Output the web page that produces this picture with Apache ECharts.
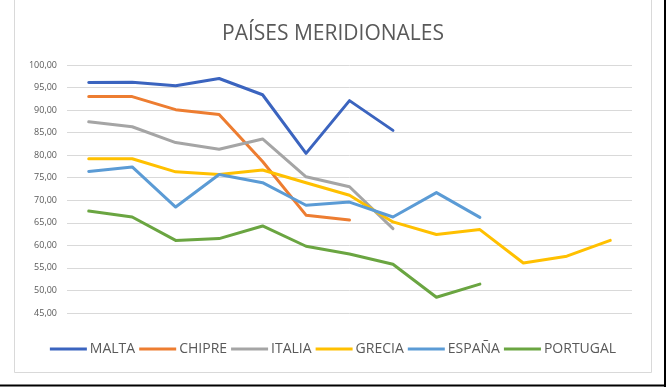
<!DOCTYPE html>
<html>
<head>
<meta charset="utf-8">
<script src="https://cdn.jsdelivr.net/npm/echarts@6/dist/echarts.min.js"></script>
<style>
html,body{margin:0;padding:0;background:#fff;}
#c{width:666px;height:387px;}
</style>
</head>
<body>
<div id="c"></div>
<script>
var categories = ['1','2','3','4','5','6','7','8','9','10','11','12','13'];
var yTicks = [45,50,55,60,65,70,75,80,85,90,95,100];
var malta    = [96.1, 96.2, 95.4, 97.0, 93.4, 80.4, 92.1, 85.5, null, null, null, null, null];
var chipre   = [93.0, 93.0, 90.1, 89.0, 78.6, 66.7, 65.6, null, null, null, null, null, null];
var italia   = [87.4, 86.3, 82.8, 81.3, 83.6, 75.2, 73.0, 63.7, null, null, null, null, null];
var grecia   = [79.2, 79.2, 76.3, 75.7, 76.7, 73.9, 71.1, 65.2, 62.4, 63.5, 56.1, 57.6, 61.1];
var espana   = [76.4, 77.4, 68.5, 75.7, 73.9, 68.9, 69.6, 66.3, 71.7, 66.2, null, null, null];
var portugal = [67.6, 66.3, 61.1, 61.5, 64.3, 59.8, 58.1, 55.8, 48.5, 51.4, null, null, null];
var names  = ['MALTA','CHIPRE','ITALIA','GRECIA','ESPAÑA','PORTUGAL'];
var values = [malta, chipre, italia, grecia, espana, portugal];
var colors = ['#3b64bf','#ed7d31','#a5a5a5','#ffc000','#5b9bd5','#6aa541'];

var chart = echarts.init(document.getElementById('c'), null, {renderer:'canvas'});
var series = names.map(function(n,i){
  return {
    name:n, type:'line', data:values[i], symbol:'none', showSymbol:false,
    connectNulls:false, animation:false,
    lineStyle:{width:3, color:colors[i], cap:'round', join:'round'},
    itemStyle:{color:colors[i]}
  };
});
chart.setOption({
  animation:false,
  backgroundColor:'#ffffff',
  title:{
    text:'PAÍSES MERIDIONALES', left:'center', top:19,
    textStyle:{fontFamily:'Open Sans', fontSize:21, fontWeight:'normal', color:'#595959'}
  },
  legend:{
    data:names, top:337, left:'center',
    icon:'rect', itemWidth:37, itemHeight:3, itemGap:4,
    textStyle:{fontFamily:'Open Sans', fontSize:14, color:'#595959', padding:[0,0,0,-2]}
  },
  grid:{left:67, right:34, top:65, bottom:74, containLabel:false},
  xAxis:{
    type:'category', data:categories, boundaryGap:true,
    axisLine:{show:false}, axisTick:{show:false}, axisLabel:{show:false}, splitLine:{show:false}
  },
  yAxis:{
    type:'value', min:yTicks[0], max:yTicks[yTicks.length-1], interval:5,
    axisLine:{show:false}, axisTick:{show:false},
    axisLabel:{margin:10, fontFamily:'Open Sans', fontSize:9, color:'#595959',
      formatter:function(v){return v.toFixed(2).replace('.',',');}},
    splitLine:{lineStyle:{color:'#d9d9d9', width:1}}
  },
  graphic:[
    {type:'rect', shape:{x:14.5, y:-5, width:637, height:377.5}, style:{fill:null, stroke:'#d9d9d9', lineWidth:1}, silent:true},
    {type:'line', shape:{x1:0, y1:385.5, x2:666, y2:385.5}, style:{stroke:'#000', lineWidth:2}, silent:true},
    {type:'line', shape:{x1:665, y1:0, x2:665, y2:387}, style:{stroke:'#000', lineWidth:2}, silent:true}
  ],
  series:series
});
</script>
</body>
</html>
